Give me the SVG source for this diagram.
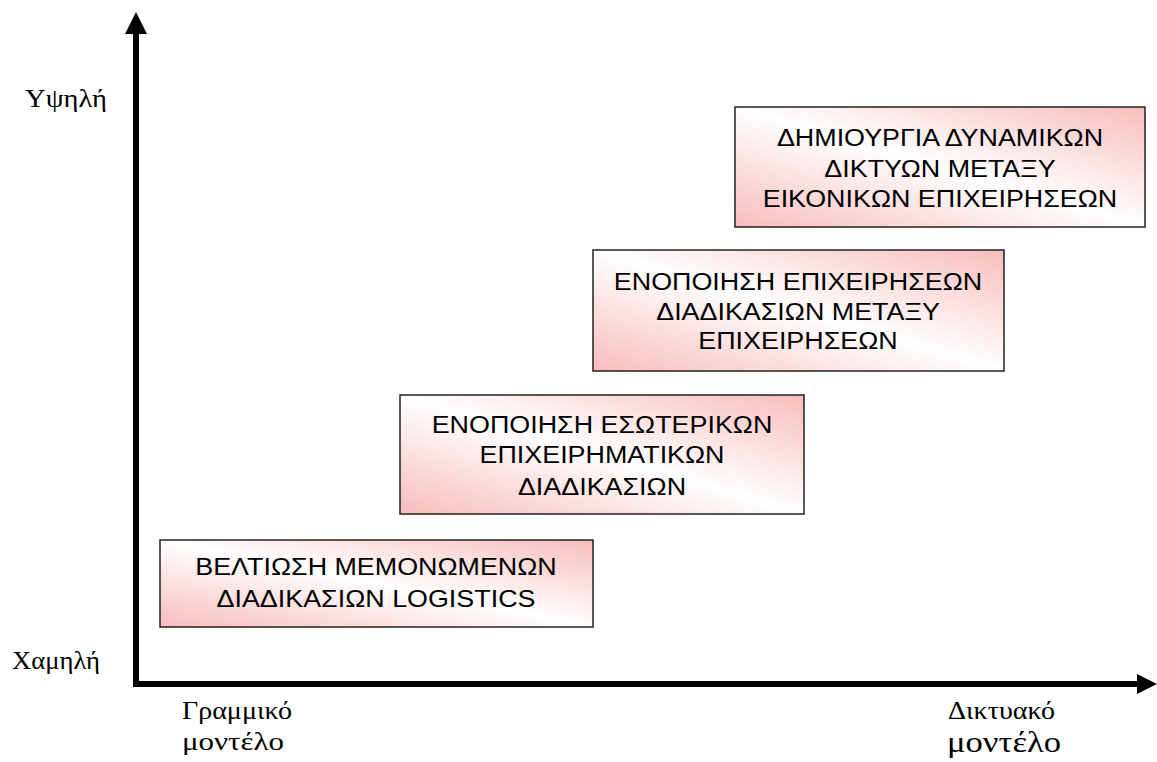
<svg xmlns="http://www.w3.org/2000/svg" width="1157" height="762" viewBox="0 0 1157 762">
<style>
.box{stroke:#222;stroke-width:1.5;fill:url(#pg)}
.bt{font-family:"Liberation Sans",Arial,sans-serif;font-size:24px;fill:#000;text-anchor:middle}
.lbl{font-family:"Liberation Serif","Times New Roman",serif;font-size:26px;fill:#000}
.ax{stroke:#000;stroke-width:6;fill:none}
</style>
<defs>
<linearGradient id="pg" x1="0" y1="1" x2="1" y2="0">
<stop offset="0" stop-color="#f8bcbc"/>
<stop offset="0.5" stop-color="#ffffff"/>
<stop offset="1" stop-color="#f8bcbc"/>
</linearGradient>
</defs>
<g id="axes">
<path class="ax" d="M136,30 V684 H1140"/>
<polygon points="136,12 125,34 147,34" fill="#000"/>
<polygon points="1157,684 1137,674 1137,694" fill="#000"/>
</g>
<g id="labels">
<text class="lbl" x="25" y="107" textLength="82" lengthAdjust="spacingAndGlyphs">Υψηλή</text>
<text class="lbl" x="12" y="669" textLength="88" lengthAdjust="spacingAndGlyphs">Χαμηλή</text>
<text class="lbl" x="182" y="719" textLength="110" lengthAdjust="spacingAndGlyphs">Γραμμικό</text>
<text class="lbl" x="182" y="750" textLength="102" lengthAdjust="spacingAndGlyphs">μοντέλο</text>
<text class="lbl" x="948" y="719" textLength="107" lengthAdjust="spacingAndGlyphs">Δικτυακό</text>
<text class="lbl" x="947" y="752" style="font-size:30px" textLength="114" lengthAdjust="spacingAndGlyphs">μοντέλο</text>
</g>
<g id="node1">
<rect class="box" x="160" y="540" width="433" height="87"/>
<g transform="translate(376,0) scale(1.12,1)">
<text class="bt" x="0" y="575">ΒΕΛΤΙΩΣΗ ΜΕΜΟΝΩΜΕΝΩΝ</text>
<text class="bt" x="0" y="607">ΔΙΑΔΙΚΑΣΙΩΝ LOGISTICS</text>
</g>
</g>
<g id="node2">
<rect class="box" x="400" y="395" width="404" height="119"/>
<g transform="translate(602,0) scale(1.12,1)">
<text class="bt" x="0" y="433">ΕΝΟΠΟΙΗΣΗ ΕΣΩΤΕΡΙΚΩΝ</text>
<text class="bt" x="0" y="463">ΕΠΙΧΕΙΡΗΜΑΤΙΚΩΝ</text>
<text class="bt" x="0" y="495">ΔΙΑΔΙΚΑΣΙΩΝ</text>
</g>
</g>
<g id="node3">
<rect class="box" x="593" y="250" width="411" height="121"/>
<g transform="translate(798,0) scale(1.12,1)">
<text class="bt" x="0" y="290">ΕΝΟΠΟΙΗΣΗ ΕΠΙΧΕΙΡΗΣΕΩΝ</text>
<text class="bt" x="0" y="320">ΔΙΑΔΙΚΑΣΙΩΝ ΜΕΤΑΞΥ</text>
<text class="bt" x="0" y="349">ΕΠΙΧΕΙΡΗΣΕΩΝ</text>
</g>
</g>
<g id="node4">
<rect class="box" x="735" y="107" width="410" height="120"/>
<g transform="translate(940,0) scale(1.12,1)">
<text class="bt" x="0" y="146">ΔΗΜΙΟΥΡΓΙΑ ΔΥΝΑΜΙΚΩΝ</text>
<text class="bt" x="0" y="177">ΔΙΚΤΥΩΝ ΜΕΤΑΞΥ</text>
<text class="bt" x="0" y="207">ΕΙΚΟΝΙΚΩΝ ΕΠΙΧΕΙΡΗΣΕΩΝ</text>
</g>
</g>
</svg>
